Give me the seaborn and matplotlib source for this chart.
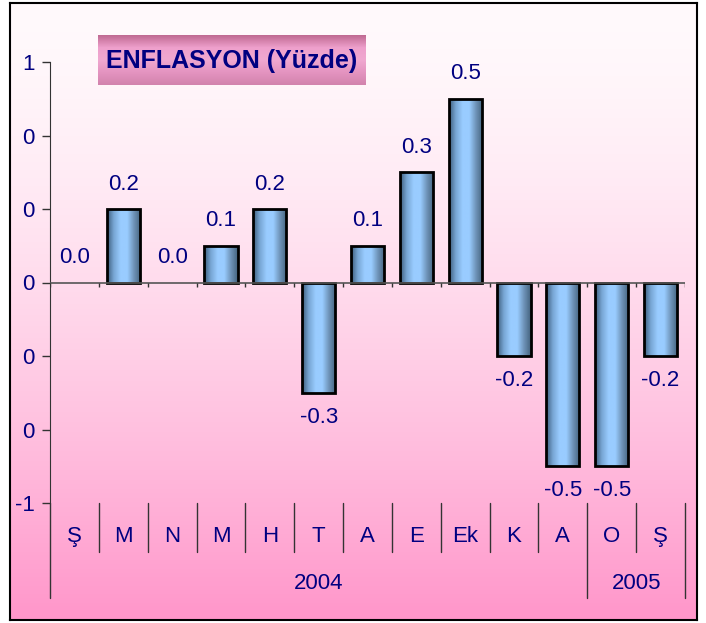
import numpy as np
import matplotlib.pyplot as plt
import seaborn as sns
import pandas as pd
from matplotlib.colors import LinearSegmentedColormap

# data
months = ["Ş", "M", "N", "M", "H", "T", "A", "E", "Ek", "K", "A", "O", "Ş"]
years = ["2004"] * 11 + ["2005"] * 2
inflation = [0.0, 0.2, 0.0, 0.1, 0.2, -0.3, 0.1, 0.3, 0.5, -0.2, -0.5, -0.5, -0.2]
yticks = [-0.6, -0.4, -0.2, 0.0, 0.2, 0.4, 0.6]

df = pd.DataFrame({"key": [f"{y}-{i}" for i, y in enumerate(years)],
                   "month": months, "year": years, "value": inflation})

sns.set_style("white")
plt.rcParams["font.family"] = ["Liberation Sans", "DejaVu Sans"]
navy = "#000080"
fs = 16

fig = plt.figure(figsize=(7.06, 6.23), dpi=100)

# pink gradient background inside a black frame
bg = fig.add_axes([10 / 706, 1 - 620 / 623, 687 / 706, 617 / 623], zorder=-1)
t = np.linspace(0, 1, 256) ** 1.5
top = np.array([255, 250, 252]) / 255
bot = np.array([255, 150, 202]) / 255
grad = top[None, :] * (1 - t[:, None]) + bot[None, :] * t[:, None]
bg.imshow(grad[:, None, :], aspect="auto", extent=[0, 1, 0, 1], origin="upper")
bg.set_xticks([])
bg.set_yticks([])
for s in bg.spines.values():
    s.set_color("black")
    s.set_linewidth(1.5)

ax = fig.add_axes([50 / 706, 1 - 503 / 623, 635 / 706, 441 / 623])
ax.patch.set_alpha(0)

sns.barplot(data=df, x="key", y="value", width=0.68, ax=ax, color="#99ccff")

bar_cmap = LinearSegmentedColormap.from_list(
    "bar", ["#3d5d7c", "#78a6d4", "#99ccff", "#99ccff", "#6e93b8", "#45647f"])
for p in ax.patches:
    x0, y0 = p.get_x(), p.get_y()
    w, h = p.get_width(), p.get_height()
    if h == 0:
        p.set_visible(False)
        continue
    img = ax.imshow(np.linspace(0, 1, 100)[None, :], cmap=bar_cmap, aspect="auto",
                    extent=[x0, x0 + w, min(y0, y0 + h), max(y0, y0 + h)], zorder=2)
    img.set_clip_path(p)
    p.set_facecolor("none")
    p.set_edgecolor("black")
    p.set_linewidth(2)
    p.set_zorder(3)

# value labels
for i, v in enumerate(inflation):
    off = -17.5 if v < 0 else 18
    ax.annotate(f"{v:.1f}", (i, v), xytext=(0, off), textcoords="offset points",
                ha="center", va="center", color=navy, fontsize=fs)

ax.set_xlim(-0.5, len(months) - 0.5)
ax.set_ylim(-0.6, 0.6)
ax.set_yticks(yticks)
ax.set_yticklabels([f"{int(round(v))}" for v in yticks], color=navy, fontsize=fs)
ax.tick_params(axis="y", length=6, width=1, color="#333333", pad=5, left=True)
ax.set_xticks([])
ax.set_xlabel("")
ax.set_ylabel("")
for s in ["top", "right", "bottom"]:
    ax.spines[s].set_visible(False)
ax.spines["left"].set_color("#333333")
ax.axhline(0, color="#555555", lw=1.2, zorder=4)

# small ticks on the zero line at category boundaries
bounds = np.arange(len(months) + 1) - 0.5
ax.vlines(bounds, -0.013, 0, color="#333333", lw=1, zorder=4)

# two-level category axis below the plot
trans = ax.get_xaxis_transform()
year_edges = [-0.5, 10.5, 12.5]
for b in bounds:
    low = -0.215 if b in year_edges else -0.111
    ax.plot([b, b], [0, low], transform=trans, clip_on=False, color="#333333", lw=1)
for i, m in enumerate(months):
    ax.text(i, -0.076, m, transform=trans, ha="center", va="center",
            color=navy, fontsize=fs)
for yr in sorted(set(years)):
    idx = [i for i, y in enumerate(years) if y == yr]
    ax.text(np.mean(idx), -0.183, yr, transform=trans, ha="center", va="center",
            color=navy, fontsize=fs)

# title box
tax = fig.add_axes([98 / 706, 1 - 85 / 623, 268 / 706, 50 / 623])
tcm = LinearSegmentedColormap.from_list("tb", ["#c06a92", "#eea0cc", "#f0a8d0", "#e494c0", "#d283ad"])
tax.imshow(np.linspace(0, 1, 100)[:, None], cmap=tcm, aspect="auto", extent=[0, 1, 0, 1], origin="upper")
tax.set_xticks([])
tax.set_yticks([])
for s in tax.spines.values():
    s.set_visible(False)
tax.text(0.5, 0.48, "ENFLASYON (Yüzde)", ha="center", va="center", color=navy,
         fontsize=18, fontweight="bold", transform=tax.transAxes)

fig.savefig("out.png", dpi=100)
